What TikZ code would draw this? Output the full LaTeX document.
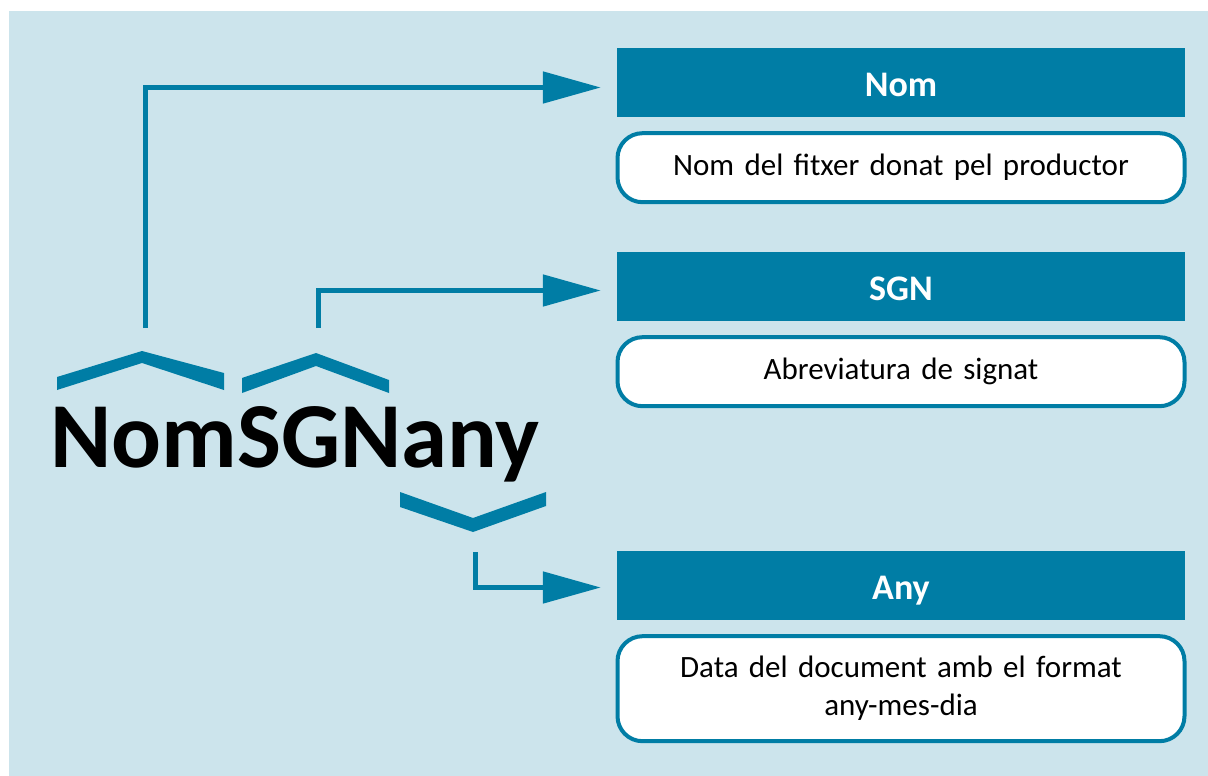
\documentclass[tikz,border=0pt]{standalone}
\usepackage{fontspec}
\setmainfont{Carlito}
\usepackage{tikz}
\usetikzlibrary{arrows.meta}
\usetikzlibrary{positioning}
\usetikzlibrary{math}
\definecolor{darkteal}{RGB}{0,125,165}
\definecolor{paleteal}{RGB}{204,228,236}
\tikzstyle{head} = [fill=darkteal, text=white, font=\fontsize{36}{40}\selectfont\bfseries, text height=27pt, text depth=0pt, minimum width=568pt, minimum height=69pt, inner sep=0pt]
\tikzstyle{desc} = [draw=darkteal, line width=4pt, fill=white, rounded corners=25pt, minimum width=567pt, minimum height=69pt, text width=545pt, align=center, inner sep=0pt, font=\fontsize{31}{38}\selectfont]
\tikzstyle{conn} = [draw=darkteal, line width=5pt, -{Triangle[length=58pt,width=31pt]}, shorten >=16pt]
\tikzstyle{brace} = [fill=darkteal]

\begin{document}
\begin{tikzpicture}[x=1pt, y=-1pt]

  \tikzmath{\W = 1208; \H = 776; \cx = 901;}
  \useasboundingbox (0,0) rectangle (\W,\H);
  \fill[paleteal] (9,11) rectangle (\W,\H);

  % boxes on the right
  \node[head] (nom) at (\cx,82.5) {Nom};
  \node[desc, below=14pt of nom] (nomdesc) {Nom del fitxer donat pel productor};

  \node[head] (sgn) at (\cx,286.5) {SGN};
  \node[desc, below=14pt of sgn] (sgndesc) {Abreviatura de signat};

  \node[head] (any) at (\cx,585.5) {Any};
  \node[desc, minimum height=105pt, below=14pt of any] (anydesc) {Data del document amb el format\\any-mes-dia};

  % the file name
  \node[anchor=base west, inner sep=0pt, font=\fontsize{93}{93}\selectfont\bfseries] (fname) at (50,467) {NomSGNany};

  % braces
  \fill[brace] (57,377) -- (142,351) -- (224,373) -- (224,390) -- (142,363) -- (57,390) -- cycle;
  \fill[brace] (242,378) -- (316,353) -- (389,380) -- (389,393) -- (316,366) -- (242,393) -- cycle;
  \fill[brace] (400,492) -- (473,518) -- (546,492) -- (546,506) -- (473,532) -- (400,507) -- cycle;

  % connectors
  \coordinate (nomfoot) at (145,328);
  \coordinate (sgnfoot) at (318,328);
  \coordinate (anyfoot) at (475.5,552);

  \draw[conn] (nomfoot) |- ([yshift=-5pt]nom.west);
  \draw[conn] (sgnfoot) |- ([yshift=-4pt]sgn.west);
  \draw[conn] (anyfoot) |- ([yshift=-2pt]any.west);

\end{tikzpicture}
\end{document}
